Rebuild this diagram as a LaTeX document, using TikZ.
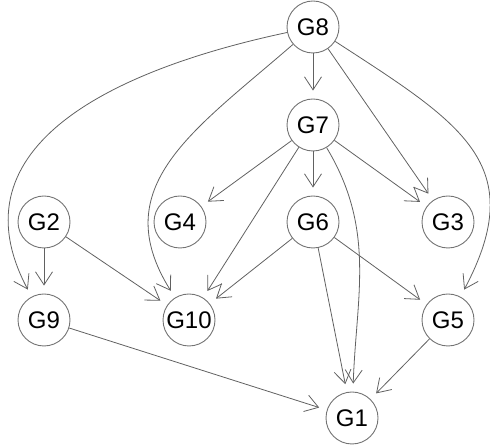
\documentclass[tikz,border=0pt]{standalone}
\usepackage{fontspec}
\setmainfont{Liberation Sans}
\usetikzlibrary{arrows.meta}
\begin{document}
\begin{tikzpicture}[x=1pt,y=1pt,
  vtx/.style={circle,draw=black!55,line width=0.9pt,minimum size=52pt,inner sep=0pt,font=\fontsize{24}{24}\selectfont,text=black},
  edge/.style={draw=black!62,line width=0.8pt,-{Straight Barb[length=13pt,width=17pt,line width=0.8pt]},shorten >=8pt}]
\useasboundingbox (0,0) rectangle (490,446);
\node[vtx] (G8) at (313,419) {G8};
\node[vtx] (G7) at (313,321) {G7};
\node[vtx] (G2) at (44,224) {G2};
\node[vtx] (G4) at (180,224) {G4};
\node[vtx] (G6) at (313,224) {G6};
\node[vtx] (G3) at (448,224) {G3};
\node[vtx] (G9) at (44,126) {G9};
\node[vtx] (G10) at (189,126) {G10};
\node[vtx] (G5) at (448,126) {G5};
\node[vtx] (G1) at (352,28) {G1};
\path[edge] (G8) -- (G7);
\path[edge] (G8) -- (G3);
\path[edge] (G8) to[out=192,in=118,looseness=1.2] (G9);
\path[edge] (G8) to[out=221,in=122,looseness=1.2] (G10);
\path[edge] (G8) to[out=-33,in=62,looseness=1.35] (G5);
\path[edge] (G7) -- (G4);
\path[edge] (G7) -- (G10);
\path[edge] (G7) -- (G6);
\path[edge] (G7) -- (G3);
\path[edge] (G7) to[out=-59,in=88] (G1);
\path[edge] (G2) -- (G9);
\path[edge] (G2) -- (G10);
\path[edge] (G6) -- (G10);
\path[edge] (G6) -- (G5);
\path[edge] (G6) -- (G1);
\path[edge] (G9) -- (G1);
\path[edge] (G5) -- (G1);
\end{tikzpicture}
\end{document}
